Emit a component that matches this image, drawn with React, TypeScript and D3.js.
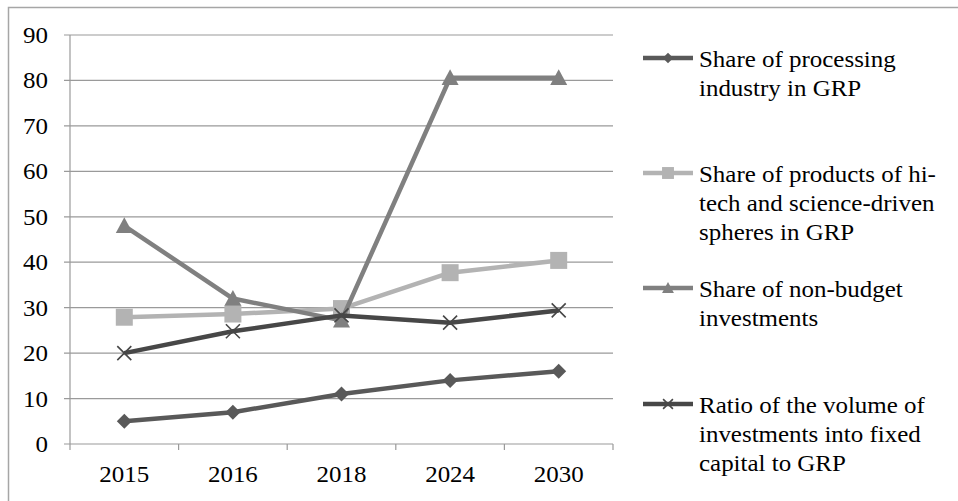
import React from "react";
import * as d3 from "d3";

const categories = ["2015", "2016", "2018", "2024", "2030"];
const yTicks = [0, 10, 20, 30, 40, 50, 60, 70, 80, 90];

const processing = [5, 7, 11, 14, 16];
const hiTech = [27.9, 28.6, 29.8, 37.7, 40.4];
const nonBudget = [48, 32, 27.2, 80.6, 80.6];
const ratio = [20, 24.8, 28.3, 26.7, 29.4];

const seriesNames = [
  ["Share of processing", "industry in GRP"],
  ["Share of products of hi-", "tech and science-driven", "spheres in GRP"],
  ["Share of non-budget", "investments"],
  ["Ratio of the volume of", "investments into fixed", "capital to GRP"],
];

const series = [
  { values: processing, color: "#595959", marker: "diamond", name: seriesNames[0] },
  { values: hiTech, color: "#b3b3b3", marker: "square", name: seriesNames[1] },
  { values: nonBudget, color: "#808080", marker: "triangle", name: seriesNames[2] },
  { values: ratio, color: "#474747", marker: "x", name: seriesNames[3] },
];

const W = 958;
const H = 501;
const left = 70;
const right = 613;
const top = 35;
const bottom = 444;
const SX = 1.04;

function T({ x, y, anchor = "start", children }: { x: number; y: number; anchor?: string; children: React.ReactNode }) {
  return (
    <text
      transform={`translate(${x},${y}) scale(${SX},1)`}
      textAnchor={anchor}
      fontFamily="Liberation Serif"
      fontSize={24}
      style={{ fontFamily: '"Liberation Serif"', fontSize: 24 }}
      fill="#000"
    >
      {children}
    </text>
  );
}

function Marker({ type, x, y, color, scale = 1 }: { type: string; x: number; y: number; color: string; scale?: number }) {
  if (type === "diamond") {
    const s = 7.5 * scale;
    return <path d={`M${x},${y - s}L${x + s},${y}L${x},${y + s}L${x - s},${y}Z`} fill={color} />;
  }
  if (type === "square") {
    const s = 8.5 * scale;
    return <rect x={x - s} y={y - s} width={2 * s} height={2 * s} fill={color} />;
  }
  if (type === "triangle") {
    const s = 8.5 * scale;
    return <path d={`M${x},${y - s}L${x + s},${y + s * 0.85}L${x - s},${y + s * 0.85}Z`} fill={color} />;
  }
  const s = 7 * scale;
  return (
    <path d={`M${x - s},${y - s}L${x + s},${y + s}M${x + s},${y - s}L${x - s},${y + s}`} stroke={color} strokeWidth={1.6} fill="none" />
  );
}

export default function App() {
  const x = d3.scaleBand<string>().domain(categories).range([left, right]);
  const y = d3.scaleLinear().domain([0, 90]).range([bottom, top]);
  const cx = (c: string) => (x(c) as number) + x.bandwidth() / 2;
  const line = d3
    .line<number>()
    .x((_, i) => cx(categories[i]))
    .y((d) => y(d));

  const legendX = 699;
  const legendFirst = [67, 182, 297, 413];
  const lh = 28.8;

  return (
    <svg width={W} height={H} style={{ position: "absolute", left: 0, top: 0, fontFamily: '"Liberation Serif"' }}>
      <style>{`text { font-family: "Liberation Serif", "Tinos", "Times New Roman" !important; }`}</style>
      <rect x={0} y={0} width={W} height={H} fill="#fff" />
      <path d={`M8.5,${H + 2}V7.5H${W + 2}`} stroke="#a6a6a6" strokeWidth={1.5} fill="none" />
      {yTicks.map((t) => (
        <g key={t}>
          <line x1={64} x2={right} y1={y(t)} y2={y(t)} stroke="#9a9a9a" strokeWidth={1.2} />
          <T x={48} y={y(t) + 8} anchor="end">
            {String(t)}
          </T>
        </g>
      ))}
      <line x1={left} x2={left} y1={top} y2={bottom + 6} stroke="#9a9a9a" strokeWidth={1.2} />
      {categories.map((c, i) => (
        <line key={"t" + i} x1={(x(c) as number) + x.bandwidth()} x2={(x(c) as number) + x.bandwidth()} y1={bottom} y2={bottom + 6} stroke="#9a9a9a" strokeWidth={1.2} />
      ))}
      {categories.map((c) => (
        <T key={c} x={cx(c)} y={482} anchor="middle">
          {c}
        </T>
      ))}
      {series.map((s, si) => (
        <g key={si}>
          <path d={line(s.values) as string} stroke={s.color} strokeWidth={4.5} fill="none" strokeLinejoin="round" />
          {s.values.map((v, i) => (
            <Marker key={i} type={s.marker} x={cx(categories[i])} y={y(v)} color={s.color} />
          ))}
        </g>
      ))}
      {series.map((s, si) => {
        const ly = legendFirst[si] - 9;
        return (
          <g key={"l" + si}>
            <line x1={643} x2={693} y1={ly} y2={ly} stroke={s.color} strokeWidth={4.5} />
            <Marker type={s.marker} x={668} y={ly} color={s.color} scale={0.7} />
            {s.name.map((n, k) => (
              <T key={k} x={legendX} y={legendFirst[si] + k * lh}>
                {n}
              </T>
            ))}
          </g>
        );
      })}
    </svg>
  );
}
